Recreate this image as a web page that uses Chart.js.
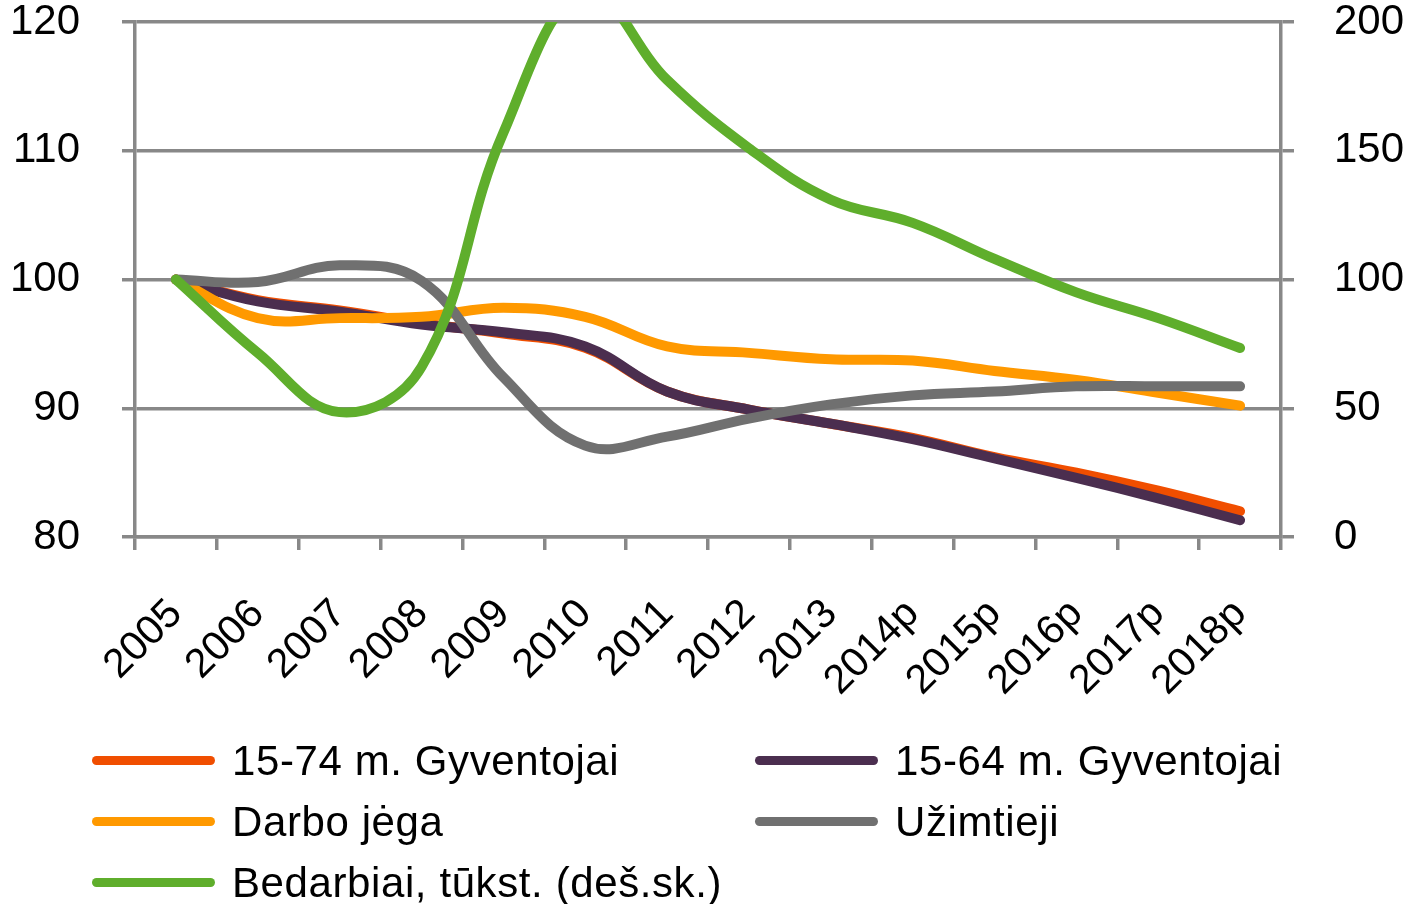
<!DOCTYPE html>
<html>
<head>
<meta charset="utf-8">
<script src="https://cdn.jsdelivr.net/npm/chart.js@4.4.1/dist/chart.umd.min.js"></script>
<style>
  html, body { margin: 0; padding: 0; background: #fff; }
  #wrap { position: relative; width: 1411px; height: 904px; }
  #legend {
    position: absolute; left: 92px; top: 730px;
    display: grid; grid-template-columns: 663px 560px;
    font-family: 'Liberation Sans', Arial, sans-serif;
    font-size: 42px; letter-spacing: 0.6px; color: #000;
  }
  .item { display: flex; align-items: center; height: 61px; white-space: nowrap; }
  .swatch { width: 123px; height: 9px; border-radius: 5px; margin-right: 17px; flex: none; }
</style>
</head>
<body>
<div id="wrap">
  <canvas id="chart" width="1411" height="904"></canvas>
  <div id="legend"></div>
</div>
<script>
// Categories
const years = ['2005', '2006', '2007', '2008', '2009', '2010', '2011', '2012', '2013',
               '2014p', '2015p', '2016p', '2017p', '2018p'];

// Series (2005 = 100), left axis
const pop1574 = [100, 98.4, 97.6, 96.6, 95.8, 94.7, 91.3, 89.9, 88.8, 87.7, 86.2, 85.0, 83.6, 82.0];
const pop1564 = [100, 98.3, 97.5, 96.5, 95.9, 94.8, 91.3, 89.9, 88.8, 87.6, 86.1, 84.6, 83.0, 81.3];
const labourForce = [100, 97.0, 97.0, 97.1, 97.8, 97.1, 94.8, 94.3, 93.8, 93.7, 92.9, 92.2, 91.2, 90.2];
const employed = [100, 99.8, 101.1, 99.9, 92.4, 87.1, 87.8, 89.2, 90.3, 91.0, 91.3, 91.7, 91.7, 91.7];
// Unemployed, thousands, right axis
const unemployed = [100, 71.5, 48.5, 66, 157, 212, 177.5, 151, 131, 122, 108, 95, 85, 73.4];

// Axis ticks
const leftTicks = [80, 90, 100, 110, 120];
const rightTicks = [0, 50, 100, 150, 200];

const FONT = "'Liberation Sans', Arial, sans-serif";
const AXIS_GREY = '#888888';

function line(label, data, color, order, axis) {
    return {
        label: label,
        data: data,
        borderColor: color,
        backgroundColor: color,
        borderWidth: 10,
        borderCapStyle: 'round',
        borderJoinStyle: 'round',
        pointRadius: 0,
        tension: 0.4,
        fill: false,
        order: order,
        yAxisID: axis
    };
}

const chartData = {
    labels: years,
    datasets: [
        line('15-74 m. Gyventojai', pop1574, '#F04E00', 4, 'y'),
        line('15-64 m. Gyventojai', pop1564, '#4B2E4F', 3, 'y'),
        line('Darbo jėga', labourForce, '#FF9900', 2, 'y'),
        line('Užimtieji', employed, '#707070', 1, 'y'),
        line('Bedarbiai, tūkst. (deš.sk.)', unemployed, '#5FAE2C', 0, 'y2')
    ]
};

// keep the plot box where the reference has it
function noPad(scale) {
    scale.paddingTop = 0;
    scale.paddingBottom = 0;
    scale.paddingLeft = 0;
    scale.paddingRight = 0;
}

const yFont = { family: FONT, size: 42 };
const xFont = { family: FONT, size: 41 };

const ctx = document.getElementById('chart').getContext('2d');
const chart = new Chart(ctx, {
    type: 'line',
    data: chartData,
    options: {
        responsive: false,
        animation: false,
        layout: { padding: { top: 22, left: 0, right: 0, bottom: 0 } },
        plugins: {
            legend: { display: false },
            tooltip: { enabled: false }
        },
        scales: {
            x: {
                offset: true,
                grid: { drawOnChartArea: false, color: AXIS_GREY, lineWidth: 3.5, tickLength: 13, offset: true },
                border: { color: AXIS_GREY, width: 3.5 },
                ticks: {
                    color: '#000', font: xFont, padding: 40,
                    minRotation: 45, maxRotation: 45, autoSkip: false
                },
                afterFit: function(scale) { noPad(scale); scale.height = 904 - 537; }
            },
            y: {
                position: 'left',
                min: 80, max: 120,
                afterBuildTicks: function(scale) { scale.ticks = leftTicks.map(v => ({ value: v })); },
                grid: { color: AXIS_GREY, lineWidth: 3.5, tickLength: 13 },
                border: { color: AXIS_GREY, width: 3.5 },
                ticks: { color: '#000', font: yFont, padding: 42 },
                afterFit: function(scale) { noPad(scale); scale.width = 135; }
            },
            y2: {
                position: 'right',
                min: 0, max: 200,
                afterBuildTicks: function(scale) { scale.ticks = rightTicks.map(v => ({ value: v })); },
                grid: { drawOnChartArea: false, color: AXIS_GREY, lineWidth: 3.5, tickLength: 13 },
                border: { color: AXIS_GREY, width: 3.5 },
                ticks: { color: '#000', font: yFont, padding: 40 },
                afterFit: function(scale) { noPad(scale); scale.width = 1411 - 1281; }
            }
        }
    }
});

// Legend in two columns, in the order of the datasets
const legendEl = document.getElementById('legend');
chart.data.datasets.forEach(function(ds) {
    const item = document.createElement('div');
    item.className = 'item';
    const sw = document.createElement('span');
    sw.className = 'swatch';
    sw.style.background = ds.borderColor;
    const txt = document.createElement('span');
    txt.textContent = ds.label;
    item.appendChild(sw);
    item.appendChild(txt);
    legendEl.appendChild(item);
});
</script>
</body>
</html>
